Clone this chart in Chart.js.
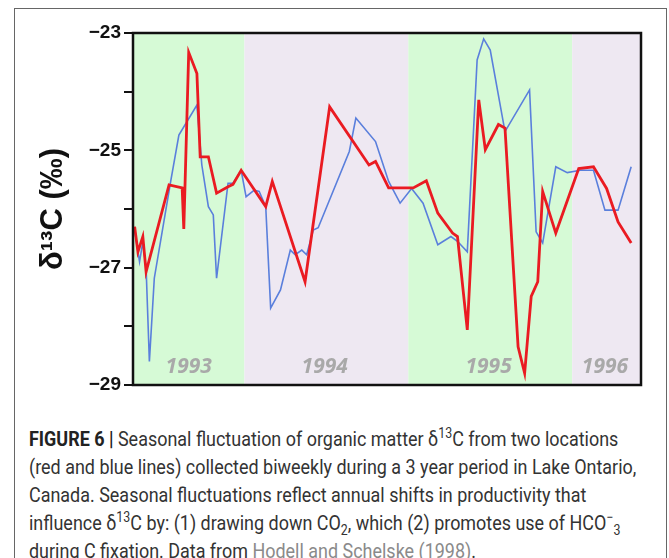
<!DOCTYPE html>
<html>
<head>
<meta charset="utf-8">
<script src="https://cdn.jsdelivr.net/npm/chart.js@4"></script>
<style>
  body { margin: 0; background: #fff; }
  #frame {
    position: absolute; left: 14px; top: 8px;
    width: 653px; height: 600px;
    border: 1px solid #666; box-sizing: border-box;
  }
  #wrap { position: absolute; left: 0; top: 0; width: 669px; height: 400px; }
  #caption {
    position: absolute; left: 29px; top: 425px; width: 720px;
    font-family: Roboto, sans-serif; white-space: nowrap;
    font-size: 20.3px; line-height: 28px; color: #333;
    transform: scaleX(0.885); transform-origin: 0 0;
  }
  #caption b { color: #222; }
  #caption .ref { color: #8a8a8a; }
  #caption sup, #caption sub { font-size: 14px; line-height: 0; }
</style>
</head>
<body>
<div id="frame"></div>
<div id="wrap"><canvas id="chart"></canvas></div>
<div id="caption"><b>FIGURE 6 |</b> Seasonal fluctuation of organic matter δ<sup>13</sup>C from two locations<br>(red and blue lines) collected biweekly during a 3 year period in Lake Ontario,<br>Canada. Seasonal fluctuations reflect annual shifts in productivity that<br>influence δ<sup>13</sup>C by: (1) drawing down CO<sub>2</sub>, which (2) promotes use of HCO<sup>−</sup><sub>3</sub><br>during C fixation. Data from <span class="ref">Hodell and Schelske (1998)</span>.</div>
<script>
document.addEventListener('DOMContentLoaded', () => {
    // sampling dates (decimal year) and d13C values
    const redX = [1993.33, 1993.35, 1993.38, 1993.40, 1993.54, 1993.62, 1993.63, 1993.66, 1993.71, 1993.73,
        1993.78, 1993.83, 1993.90, 1993.93, 1993.98, 1994.13, 1994.17, 1994.37, 1994.52, 1994.76,
        1994.80, 1994.88, 1995.03, 1995.11, 1995.18, 1995.27, 1995.30, 1995.36, 1995.43, 1995.47,
        1995.55, 1995.59, 1995.67, 1995.71, 1995.75, 1995.79, 1995.82, 1995.90, 1996.04, 1996.13,
        1996.21, 1996.28, 1996.36];
    const redY = [-26.30, -26.73, -26.47, -27.07, -25.59, -25.64, -26.34, -23.33, -23.69, -25.11,
        -25.11, -25.73, -25.62, -25.58, -25.34, -25.96, -25.53, -27.24, -24.26, -25.25,
        -25.19, -25.64, -25.64, -25.52, -26.07, -26.41, -26.47, -28.06, -24.14, -24.99,
        -24.56, -24.62, -28.35, -28.80, -27.49, -27.24, -25.70, -26.41, -25.31, -25.28,
        -25.65, -26.22, -26.58];

    const blueX = [1993.33, 1993.36, 1993.38, 1993.40, 1993.42, 1993.45, 1993.55, 1993.60, 1993.71, 1993.74,
        1993.78, 1993.81, 1993.83, 1993.90, 1993.93, 1993.98, 1994.01, 1994.06, 1994.09, 1994.13,
        1994.16, 1994.22, 1994.28, 1994.31, 1994.35, 1994.38, 1994.42, 1994.45, 1994.64, 1994.68,
        1994.80, 1994.88, 1994.95, 1995.02, 1995.09, 1995.18, 1995.26, 1995.30, 1995.36, 1995.42,
        1995.46, 1995.50, 1995.59, 1995.74, 1995.78, 1995.82, 1995.90, 1995.97, 1996.05, 1996.13,
        1996.20, 1996.28, 1996.36];
    const blueY = [-26.36, -26.90, -26.56, -27.01, -28.60, -27.18, -25.53, -24.74, -24.23, -25.25,
        -25.96, -26.10, -27.18, -25.56, -25.56, -25.34, -25.79, -25.68, -25.70, -25.96,
        -27.69, -27.38, -26.70, -26.78, -26.70, -26.78, -26.36, -26.32, -25.02, -24.45,
        -24.85, -25.53, -25.90, -25.65, -25.90, -26.61, -26.47, -26.55, -26.73, -23.46,
        -23.10, -23.29, -24.68, -23.97, -26.39, -26.58, -25.28, -25.38, -25.34, -25.34,
        -26.02, -26.02, -25.28];

    // shaded seasons and the year labels inside them
    const bandEdges = [1993.32, 1994.0, 1995.0, 1996.0, 1996.42];
    const bandColors = ['#d6fad6', '#eee8f2', '#d6fad6', '#eee8f2'];
    const yearLabels = ['1993', '1994', '1995', '1996'];
    const yearLabelAt = [1993.66, 1994.49, 1995.49, 1996.20];

    const yTicks = [-23, -24, -25, -26, -27, -28, -29];

    const toPoints = (xs, ys) => xs.map((x, i) => ({ x: x, y: ys[i] }));

    const seasonPlugin = {
        id: 'seasons',
        beforeDatasetsDraw(chart) {
            const { ctx, chartArea, scales } = chart;
            const xs = scales.x, ys = scales.y;
            ctx.save();
            for (let i = 0; i < bandColors.length; i++) {
                const x0 = xs.getPixelForValue(bandEdges[i]);
                const x1 = xs.getPixelForValue(bandEdges[i + 1]);
                ctx.fillStyle = bandColors[i];
                ctx.fillRect(x0, chartArea.top, x1 - x0, chartArea.bottom - chartArea.top);
            }
            ctx.fillStyle = '#a9a9a9';
            ctx.font = 'italic bold 21px "Open Sans", sans-serif';
            ctx.textAlign = 'center';
            ctx.textBaseline = 'middle';
            yearLabels.forEach((t, i) => {
                ctx.fillText(t, xs.getPixelForValue(yearLabelAt[i]), ys.getPixelForValue(-28.7));
            });
            ctx.restore();
        },
        afterDraw(chart) {
            const { ctx, chartArea } = chart;
            ctx.save();
            ctx.strokeStyle = '#111';
            ctx.lineWidth = 2.5;
            ctx.strokeRect(chartArea.left, chartArea.top, chartArea.right - chartArea.left, chartArea.bottom - chartArea.top);
            ctx.restore();
        }
    };

    const ctx = document.getElementById('chart').getContext('2d');
    new Chart(ctx, {
        type: 'line',
        data: {
            datasets: [
                {
                    label: 'Red',
                    data: toPoints(redX, redY),
                    borderColor: '#ea1b22',
                    borderWidth: 2.8,
                    pointRadius: 0,
                    tension: 0
                },
                {
                    label: 'Blue',
                    data: toPoints(blueX, blueY),
                    borderColor: '#5a7fdc',
                    borderWidth: 1.6,
                    pointRadius: 0,
                    tension: 0
                }
            ]
        },
        options: {
            responsive: true,
            maintainAspectRatio: false,
            animation: false,
            layout: { padding: { top: 33, right: 28, bottom: 15, left: 0 } },
            plugins: { legend: { display: false }, tooltip: { enabled: false } },
            scales: {
                x: {
                    type: 'linear',
                    min: bandEdges[0],
                    max: bandEdges[bandEdges.length - 1],
                    display: false
                },
                y: {
                    min: -29,
                    max: -23,
                    afterFit(scale) { scale.width = 133; },
                    afterBuildTicks(scale) { scale.ticks = yTicks.map(v => ({ value: v })); },
                    border: { display: true, color: '#111', width: 2.5 },
                    grid: { drawOnChartArea: false, drawTicks: true, tickLength: 9, color: '#111', lineWidth: 2 },
                    ticks: {
                        padding: 3,
                        color: '#111',
                        font: { family: '"Liberation Sans", Arial, sans-serif', size: 19, weight: 'bold' },
                        callback: v => (v % 2 !== 0) ? '\u2212' + Math.abs(v) : ''
                    },
                    title: {
                        display: true,
                        text: 'δ¹³C (‰)',
                        color: '#111',
                        font: { family: '"Liberation Sans", Arial, sans-serif', size: 31, weight: 'bold' },
                        padding: { top: 35, bottom: 0 }
                    }
                }
            }
        },
        plugins: [seasonPlugin]
    });
});
</script>
</body>
</html>
